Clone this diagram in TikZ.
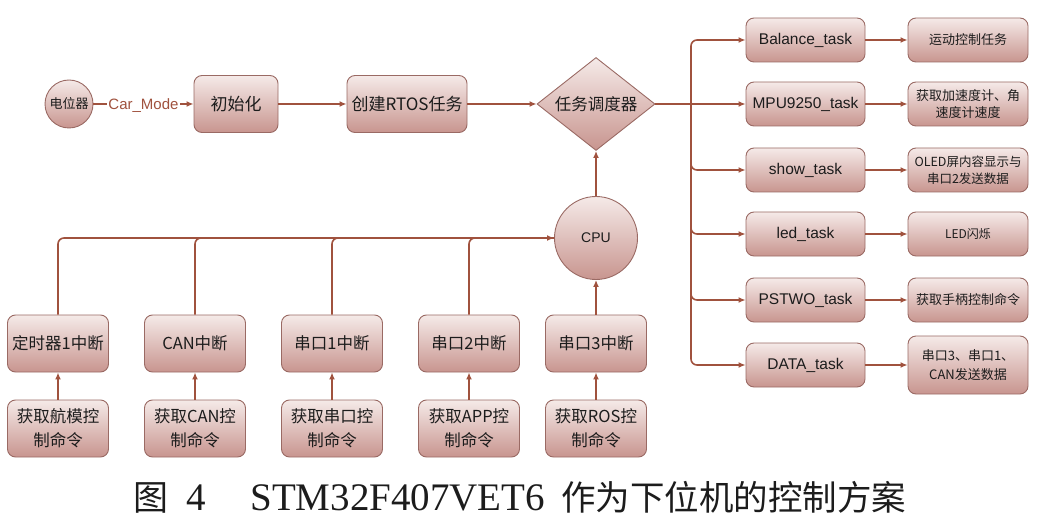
\documentclass[tikz,border=0pt]{standalone}
\usepackage{fontspec}
\setmainfont{Liberation Sans}
\newfontfamily\cjkf{Noto Sans CJK SC}
\newfontfamily\capfont{Liberation Serif}
\usetikzlibrary{arrows.meta,shapes.geometric,calc}
\definecolor{linec}{HTML}{A0523E}
\definecolor{edgec}{HTML}{9A6A64}
\definecolor{topc}{HTML}{F5EAE8}
\definecolor{botc}{HTML}{C8958F}
\definecolor{txtc}{HTML}{1C1C1C}
\tikzset{
  fillbox/.style={draw=edgec, line width=0.9pt, top color=topc, bottom color=botc, text=txtc, align=center, inner sep=0pt},
  rbox/.style={fillbox, rectangle, rounded corners=8pt},
  taskbox/.style={rbox, minimum width=119pt, minimum height=44pt, font=\fontsize{15.5}{18}\selectfont},
  resbox/.style={rbox, minimum width=120pt, minimum height=44pt, font=\cjkf\fontsize{13}{17}\selectfont},
  intbox/.style={rbox, minimum width=101pt, minimum height=57pt, font=\cjkf\fontsize{16.5}{24}\selectfont},
  topbox/.style={rbox, minimum height=57pt, font=\cjkf\fontsize{17}{20}\selectfont},
  conn/.style={draw=linec, line width=1.6pt},
  arr/.style={conn, -{Latex[length=7pt,width=6pt]}},
}
\begin{document}
\begin{tikzpicture}[x=1pt,y=-1pt]
\useasboundingbox (0,0) rectangle (1040,521);
% top row
\node[fillbox, circle, minimum size=48pt, font=\cjkf\fontsize{13}{15}\selectfont] (pot) at (69,104) {电位器};
\node[topbox, minimum width=84pt] (init) at (236,104) {初始化};
\node[topbox, minimum width=120pt] (rtos) at (407,104) {创建RTOS任务};
\node[fillbox, diamond, shape aspect=1.3, minimum width=118pt, minimum height=93pt, font=\cjkf\fontsize{16.5}{19}\selectfont] (sched) at (596,104) {任务调度器};
\node[fillbox, circle, minimum size=83pt, font=\fontsize{14}{16}\selectfont] (cpu) at (596,238) {CPU};
% tasks
\node[taskbox] (t1) at (805.5,40) {Balance\_task};
\node[taskbox] (t2) at (805.5,104) {MPU9250\_task};
\node[taskbox] (t3) at (805.5,170) {show\_task};
\node[taskbox] (t4) at (805.5,234) {led\_task};
\node[taskbox] (t5) at (805.5,300) {PSTWO\_task};
\node[taskbox] (t6) at (805.5,365) {DATA\_task};
\node[resbox] (r1) at (968,40) {运动控制任务};
\node[resbox] (r2) at (968,104) {获取加速度计、角\\速度计速度};
\node[resbox, font=\cjkf\fontsize{12.5}{17}\selectfont] (r3) at (968,170) {OLED屏内容显示与\\串口2发送数据};
\node[resbox, font=\cjkf\fontsize{12}{15}\selectfont] (r4) at (968,234) {LED闪烁};
\node[resbox] (r5) at (968,300) {获取手柄控制命令};
\node[resbox, minimum height=58pt, font=\cjkf\fontsize{13}{19}\selectfont] (r6) at (968,365) {串口3、串口1、\\CAN发送数据};
% interrupts
\node[intbox] (i1) at (58,343.5) {定时器1中断};
\node[intbox] (i2) at (195,343.5) {CAN中断};
\node[intbox] (i3) at (332,343.5) {串口1中断};
\node[intbox] (i4) at (469,343.5) {串口2中断};
\node[intbox] (i5) at (596,343.5) {串口3中断};
\node[intbox] (c1) at (58,428.5) {获取航模控\\制命令};
\node[intbox] (c2) at (195,428.5) {获取CAN控\\制命令};
\node[intbox] (c3) at (332,428.5) {获取串口控\\制命令};
\node[intbox] (c4) at (469,428.5) {获取APP控\\制命令};
\node[intbox] (c5) at (596,428.5) {获取ROS控\\制命令};
% connectors top
\draw[arr] (pot.east) -- node[fill=white, inner sep=1pt, yshift=-1.5pt, text=linec, font=\fontsize{15}{17}\selectfont] {Car\_Mode} (init.west);
\draw[arr] (init.east) -- (rtos.west);
\draw[arr] (rtos.east) -- (sched.west);
\coordinate (J) at (691,104);
\draw[conn] (sched.east) -- (J);
\draw[arr] (J) -- (t2.west);
\foreach \t in {t1,t3,t4,t5,t6}
  \draw[arr, rounded corners=6pt] (J) |- (\t.west);
\foreach \i in {1,...,6}
  \draw[arr] (t\i.east) -- (r\i.west);
\draw[arr] (cpu.north) -- (sched.south);
% bottom
\foreach \i in {1,...,5}
  \draw[arr] (c\i.north) -- (i\i.south);
\draw[arr] (i5.north) -- (cpu.south);
\draw[arr, rounded corners=6pt] (i1.north) |- (cpu.west);
\foreach \i in {2,3,4}
  \draw[conn, rounded corners=6pt] (i\i.north) |- (cpu.west);
% caption
\node[text=txtc] (cap) at (520,497) {{\cjkf\fontsize{35}{40}\selectfont 图}\hspace{18pt}{\capfont\fontsize{39}{40}\selectfont 4}\hspace{44pt}{\capfont\fontsize{39}{40}\selectfont STM32F407VET6}\hspace{16pt}{\cjkf\fontsize{34.5}{40}\selectfont 作为下位机的控制方案}};
\end{tikzpicture}
\end{document}
